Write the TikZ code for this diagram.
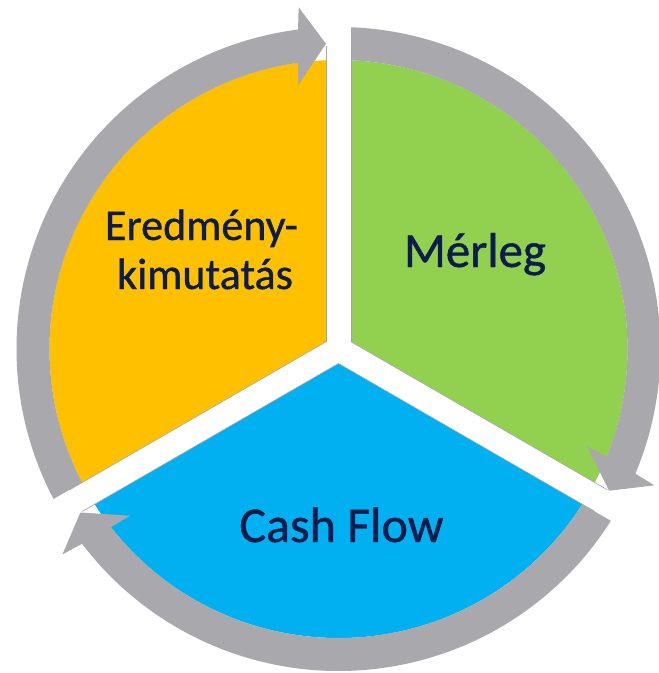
\documentclass[tikz,border=0pt]{standalone}
\usepackage{fontspec}
\setmainfont[FakeBold=0]{Carlito}
\newfontfamily\labelfont[FakeBold=0.9]{Carlito}
\usetikzlibrary{calc}
\definecolor{cOrange}{RGB}{255,192,0}
\definecolor{cGreen}{RGB}{146,208,80}
\definecolor{cBlue}{RGB}{0,176,240}
\definecolor{cRing}{RGB}{168,168,173}
\definecolor{cText}{RGB}{12,28,76}
\begin{document}
\begin{tikzpicture}[x=1pt,y=1pt,
  gapline/.style={white, line width=25pt},
  edgeline/.style={draw=black!35, line width=0.6pt},
  txt/.style={text=cText, inner sep=0pt, anchor=base}]
\useasboundingbox (-338.5,-324) rectangle (320.5,349);
\fill[white] (-338.5,-324) rectangle (320.5,349);
% pie sectors
\fill[cOrange] (0,0) -- (90:289) arc[start angle=90,end angle=210,radius=289] -- cycle;
\fill[cGreen] (0,0) -- (-30:289) arc[start angle=-30,end angle=90,radius=289] -- cycle;
\fill[cBlue] (0,0) -- (210:289) arc[start angle=210,end angle=330,radius=289] -- cycle;
% ring arrows
\foreach \a/\t in {210/92.35, 90/-27.65, -30/-147.65}{
  \fill[cRing] (\a:322) arc[start angle=\a, end angle={\t+4.87}, radius=322]
    -- ({\t+4.3}:344) -- (\t:305.5) -- ({\t+6.3}:267) -- ({\t+5.73}:289)
    arc[start angle={\t+5.73}, end angle=\a, radius=289] -- cycle;
}
% gaps
\foreach \g in {90,-30,210} \draw[gapline] (0,0) -- (\g:360);
% faint edge lines along the gaps
\draw[edgeline] (150:14.43) -- ++(90:296);
\draw[edgeline] (30:14.43) -- ++(90:296);
\draw[edgeline] (30:14.43) -- ++(-30:296);
\draw[edgeline] (-90:14.43) -- ++(-30:296);
\draw[edgeline] (150:14.43) -- ++(210:296);
\draw[edgeline] (-90:14.43) -- ++(210:296);
% labels
\node[txt, font=\labelfont\fontsize{44}{52}\selectfont] (e1) at (-137,109) {Eredmény-};
\node[txt, font=\labelfont\fontsize{44}{52}\selectfont] (e2) at (-133.5,60) {kimutatás};
\node[txt, font=\labelfont\fontsize{49}{58}\selectfont] (m) at (136.5,82) {Mérleg};
\node[txt, font=\labelfont\fontsize{50}{60}\selectfont] (c) at (3,-193) {Cash Flow};
\end{tikzpicture}
\end{document}
